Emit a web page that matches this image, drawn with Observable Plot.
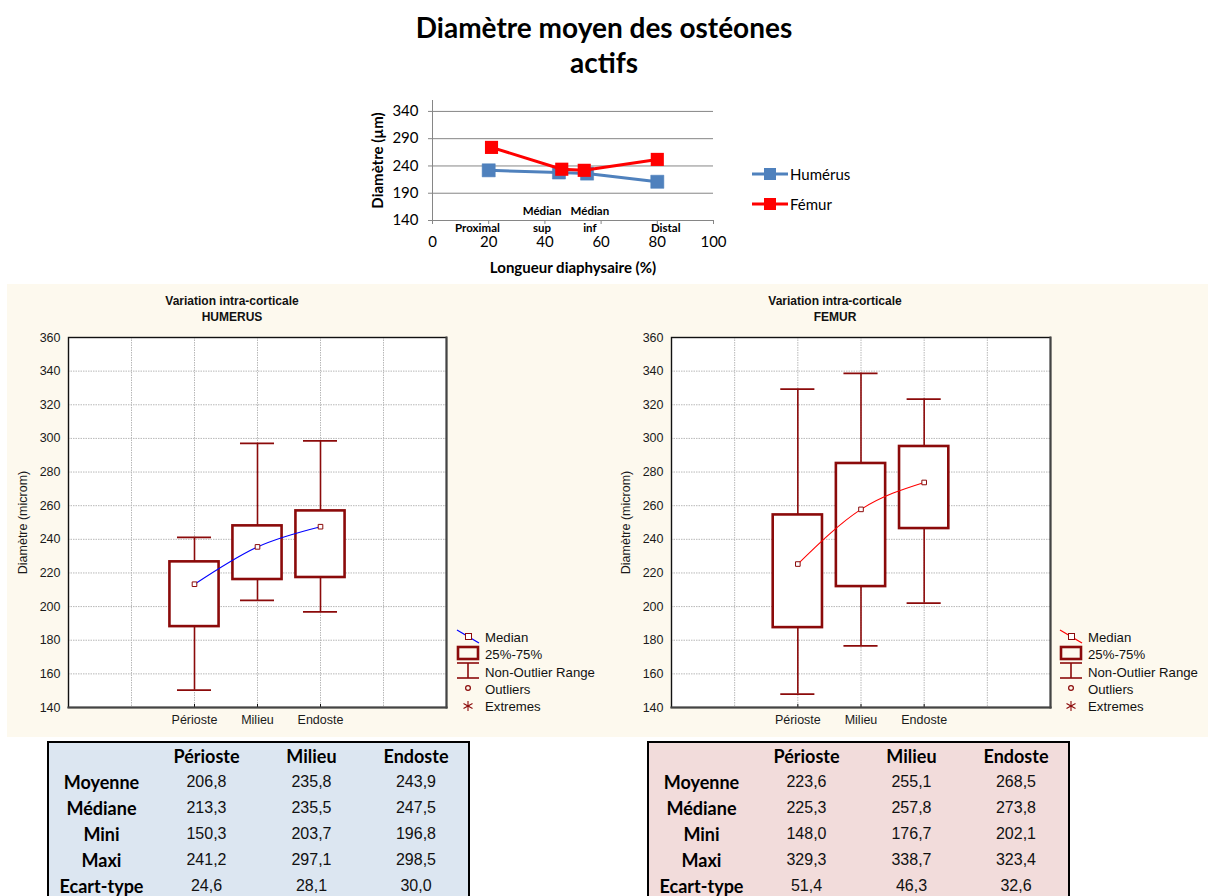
<!DOCTYPE html>
<html><head><meta charset="utf-8">
<script src="https://cdn.jsdelivr.net/npm/d3@7"></script>
<script src="https://cdn.jsdelivr.net/npm/@observablehq/plot@0.6"></script>
<style>
body{margin:0;background:#fff;}
#root{position:relative;width:1208px;height:896px;overflow:hidden;font-family:Lato,sans-serif;background:#fff;}
.bold-label g[aria-label="x-axis label"] text, .bold-label g[aria-label="y-axis label"] text{font-weight:bold !important;font-size:15px !important;}
.bold-label g[aria-label="x-axis label"], .bold-label g[aria-label="y-axis label"]{font-weight:bold;font-size:15px;}
.title{position:absolute;left:0;width:1208px;text-align:center;font-weight:bold;font-size:28px;line-height:34px;color:#000;}
.ptitle{position:absolute;width:300px;text-align:center;font-family:'Liberation Sans',Arial,sans-serif;font-weight:bold;font-size:12px;line-height:16px;color:#111;}
table.stats{position:absolute;border-collapse:collapse;border:2px solid #000;border-bottom:none;table-layout:fixed;}
table.stats td{padding:0;text-align:center;height:26px;font-family:'Liberation Sans',Arial,sans-serif;font-size:16px;line-height:18px;color:#111;}
table.stats td.lab, table.stats td.hd{font-family:Lato,sans-serif;font-weight:bold;font-size:18px;color:#000;}
.legtext{font-family:'Liberation Sans',Arial,sans-serif;font-size:13.2px;fill:#111;}
</style></head><body><div id="root"></div>
<script>
// ---------- Data: top line chart ----------
const humerusX = [20, 45, 55, 80];
const humerusY = [232, 228, 226, 211];
const femurX = [21, 46, 54, 80];
const femurY = [274, 234, 232, 252];
const sectionLabels = ["Proximal", "Médian\nsup", "Médian\ninf", "Distal"];
const sectionLabelX = [16, 39, 56, 83];
const lineTicksY = [140, 190, 240, 290, 340];
const lineTicksX = [0, 20, 40, 60, 80, 100];

// ---------- Data: box plots ----------
const zones = ["Périoste", "Milieu", "Endoste"];
const boxTicksY = [140, 160, 180, 200, 220, 240, 260, 280, 300, 320, 340, 360];
const humQ1 = [188.1, 216.1, 217.3];
const humQ3 = [226.6, 248.0, 256.9];
const humMin = [150.3, 203.7, 196.8];
const humMax = [241.2, 297.1, 298.5];
const humMed = [213.3, 235.5, 247.5];
const humMean = [206.8, 235.8, 243.9];
const humSD = [24.6, 28.1, 30.0];

const femQ1 = [187.5, 211.9, 246.4];
const femQ3 = [254.5, 285.1, 295.2];
const femMin = [148.0, 176.7, 202.1];
const femMax = [329.3, 338.7, 323.4];
const femMed = [225.3, 257.8, 273.8];
const femMean = [223.6, 255.1, 268.5];
const femSD = [51.4, 46.3, 32.6];

const statLabels = ["Moyenne", "Médiane", "Mini", "Maxi", "Ecart-type"];

const root = document.getElementById("root");
function place(el, left, top) { el.style.position = "absolute"; el.style.left = left + "px"; el.style.top = top + "px"; root.appendChild(el); return el; }

// ---------- Title ----------
const t1 = document.createElement("div"); t1.className = "title"; t1.textContent = "Diamètre moyen des ostéones"; t1.style.top = "10px"; root.appendChild(t1);
const t2 = document.createElement("div"); t2.className = "title"; t2.textContent = "actifs"; t2.style.top = "45px"; root.appendChild(t2);

// ---------- Top line chart ----------
const hum = humerusX.map((x, i) => ({x, y: humerusY[i], s: "Humérus"}));
const fem = femurX.map((x, i) => ({x, y: femurY[i], s: "Fémur"}));
const secs = sectionLabels.map((t, i) => ({t, x: sectionLabelX[i]}));
const grayAxis = "#868686";
const topChart = Plot.plot({
  width: 560, height: 190,
  marginLeft: 102, marginRight: 177, marginTop: 10, marginBottom: 60,
  style: {fontFamily: "Lato, sans-serif", fontSize: "15px", background: "transparent", color: "#000", overflow: "visible"},
  x: {domain: [0, 100]},
  y: {domain: [140, 360]},
  marks: [
    Plot.gridY(lineTicksY.slice(1), {stroke: grayAxis, strokeOpacity: 1, strokeWidth: 1}),
    Plot.axisX({ticks: lineTicksX, tickSize: 4, tickPadding: 12, stroke: grayAxis, label: "Longueur diaphysaire (%)", labelAnchor: "center", labelOffset: 52, labelArrow: "none"}),
    Plot.axisY({ticks: lineTicksY, tickSize: 4, tickPadding: 10, stroke: grayAxis, label: "Diamètre (µm)", labelAnchor: "center", labelOffset: 60, labelArrow: "none"}),
    Plot.ruleX([0], {stroke: grayAxis}),
    Plot.ruleY([140], {stroke: grayAxis}),
    Plot.text(secs, {x: "x", y: 140, text: "t", lineAnchor: "bottom", dy: 11, fontSize: 11.5, fontWeight: "bold", lineHeight: 1.4}),
    Plot.line(hum, {x: "x", y: "y", stroke: "#4F81BD", strokeWidth: 3}),
    Plot.dot(hum, {x: "x", y: "y", symbol: "square", r: 7.4, fill: "#4F81BD", stroke: "#4A7EBB", strokeWidth: 0.5}),
    Plot.line(fem, {x: "x", y: "y", stroke: "#FF0000", strokeWidth: 3}),
    Plot.dot(fem, {x: "x", y: "y", symbol: "square", r: 7.4, fill: "#FF0000"})
  ]
});
topChart.classList.add("bold-label");
topChart.querySelectorAll('g[aria-label="x-axis label"] text, g[aria-label="y-axis label"] text').forEach(t => { t.setAttribute("font-weight", "bold"); t.style.fontWeight = "bold"; t.style.fontSize = "15px"; });
place(topChart, 330, 90);

// top legend
const tl = document.createElementNS("http://www.w3.org/2000/svg", "svg");
tl.setAttribute("width", 140); tl.setAttribute("height", 60);
tl.innerHTML = `
<line x1="2" y1="14" x2="38" y2="14" stroke="#4F81BD" stroke-width="3"/>
<rect x="14" y="8" width="12" height="12" fill="#4F81BD"/>
<text x="40" y="19.5" font-family="Lato, sans-serif" font-size="15">Humérus</text>
<line x1="2" y1="44" x2="38" y2="44" stroke="#FF0000" stroke-width="3"/>
<rect x="14" y="38" width="12" height="12" fill="#FF0000"/>
<text x="40" y="49.5" font-family="Lato, sans-serif" font-size="15">Fémur</text>`;
place(tl, 750, 160);

// ---------- Cream panel ----------
const panel = document.createElement("div");
panel.style.background = "#fdf9ee"; panel.style.width = "1201px"; panel.style.height = "453px";
place(panel, 7, 284);

const darkRed = "#8B0A0A";
function boxPanel({q1, q3, lo, hi, med, medColor, left, ml, mr, title, titleCenter, legendLeft}) {
  const rows = zones.map((z, i) => ({z, pos: i + 2, q1: q1[i], q3: q3[i], lo: lo[i], hi: hi[i], med: med[i]}));
  const chart = Plot.plot({
    width: 590, height: 453,
    marginLeft: ml, marginRight: mr, marginTop: 53, marginBottom: 30,
    style: {background: "transparent", fontFamily: "'Liberation Sans', Arial, sans-serif", fontSize: "12.5px", color: "#1a1a1a", overflow: "visible"},
    x: {type: "linear", domain: [0, 6]},
    y: {type: "linear", domain: [140, 360]},
    marks: [
      Plot.frame({fill: "#fff"}),
      Plot.gridX([1, 2, 3, 4, 5], {stroke: "#b8b8b8", strokeOpacity: 1, strokeDasharray: "1.5,1"}),
      Plot.gridY(boxTicksY.slice(1, -1), {stroke: "#b8b8b8", strokeOpacity: 1, strokeDasharray: "1.5,1"}),
      Plot.axisX({ticks: [2, 3, 4], tickFormat: d => zones[d - 2], tickSize: 0, tickPadding: 8, label: null, fontSize: 12.5}),
      Plot.axisY({ticks: boxTicksY, tickSize: 0, tickPadding: 8, label: "Diamètre (microm)", labelAnchor: "center", labelOffset: 50, labelArrow: "none", fontSize: 12.5}),
      Plot.ruleX(rows, {x: "pos", y1: 140, y2: 141.8, stroke: "#111", strokeWidth: 1}),
      Plot.ruleX(rows, {x: "pos", y1: "lo", y2: "q1", stroke: darkRed, strokeWidth: 1.6}),
      Plot.ruleX(rows, {x: "pos", y1: "q3", y2: "hi", stroke: darkRed, strokeWidth: 1.6}),
      Plot.ruleY(rows, {y: "lo", x1: d => d.pos - 0.27, x2: d => d.pos + 0.27, stroke: darkRed, strokeWidth: 1.8}),
      Plot.ruleY(rows, {y: "hi", x1: d => d.pos - 0.27, x2: d => d.pos + 0.27, stroke: darkRed, strokeWidth: 1.8}),
      Plot.rect(rows, {x1: d => d.pos - 0.39, x2: d => d.pos + 0.39, y1: "q1", y2: "q3", fill: "#fff", stroke: darkRed, strokeWidth: 2.6}),
      Plot.line(rows, {x: "pos", y: "med", curve: "natural", stroke: medColor, strokeWidth: 1.1}),
      Plot.dot(rows, {x: "pos", y: "med", symbol: "square", r: 2.6, stroke: darkRed, fill: "#fff", strokeWidth: 1}),
      Plot.frame({stroke: "#111", strokeWidth: 1.4}),
      Plot.frame({anchor: "bottom", stroke: "#444", strokeWidth: 2.2}),
      Plot.frame({anchor: "right", stroke: "#444", strokeWidth: 2})
    ]
  });
  place(chart, left, 284);
  const tt = document.createElement("div"); tt.className = "ptitle";
  tt.innerHTML = "Variation intra-corticale<br>" + title;
  place(tt, titleCenter - 150, 293);
  // legend
  const lg = document.createElementNS("http://www.w3.org/2000/svg", "svg");
  lg.setAttribute("width", 160); lg.setAttribute("height", 90);
  lg.innerHTML = `
  <line x1="1" y1="2" x2="23" y2="15" stroke="${medColor}" stroke-width="1.2"/>
  <rect x="9.5" y="5.5" width="6" height="6" fill="#fff" stroke="${darkRed}" stroke-width="1"/>
  <text class="legtext" x="29" y="13.5">Median</text>
  <rect x="2" y="19" width="20" height="12" fill="none" stroke="${darkRed}" stroke-width="2.6"/>
  <text class="legtext" x="29" y="30.5">25%-75%</text>
  <line x1="1" y1="35" x2="23" y2="35" stroke="${darkRed}" stroke-width="1.6"/>
  <line x1="12" y1="35" x2="12" y2="50" stroke="${darkRed}" stroke-width="1.6"/>
  <line x1="1" y1="50" x2="23" y2="50" stroke="${darkRed}" stroke-width="1.6"/>
  <text class="legtext" x="29" y="48.5">Non-Outlier Range</text>
  <circle cx="12" cy="60" r="2.4" fill="none" stroke="${darkRed}" stroke-width="1.2"/>
  <text class="legtext" x="29" y="65.5">Outliers</text>
  <g stroke="${darkRed}" stroke-width="1.1">
    <line x1="12" y1="73" x2="12" y2="83"/><line x1="7.5" y1="75.5" x2="16.5" y2="80.5"/><line x1="7.5" y1="80.5" x2="16.5" y2="75.5"/>
  </g>
  <text class="legtext" x="29" y="82.5">Extremes</text>`;
  place(lg, legendLeft, 628);
}

boxPanel({q1: humQ1, q3: humQ3, lo: humMin, hi: humMax, med: humMed, medColor: "#0000FF",
  left: 7, ml: 61, mr: 151, title: "HUMERUS", titleCenter: 232, legendLeft: 456});
boxPanel({q1: femQ1, q3: femQ3, lo: femMin, hi: femMax, med: femMed, medColor: "#FF0000",
  left: 610, ml: 61, mr: 150, title: "FEMUR", titleCenter: 835, legendLeft: 1059});

// ---------- Tables ----------
function fmt(v) { return v.toFixed(1).replace(".", ","); }
function statTable(cols, bg, left) {
  const tb = document.createElement("table"); tb.className = "stats";
  tb.style.background = bg; tb.style.width = "423px";
  let html = `<colgroup><col style="width:106px"><col style="width:105px"><col style="width:105px"><col style="width:105px"></colgroup>`;
  html += `<tr><td style="height:26px"></td>` + zones.map(z => `<td class="hd" style="height:26px">${z}</td>`).join("") + `</tr>`;
  statLabels.forEach((lab, r) => {
    html += `<tr><td class="lab">${lab}</td>` + cols[r].map(v => `<td>${fmt(v)}</td>`).join("") + `</tr>`;
  });
  tb.innerHTML = html;
  place(tb, left, 741);
}
statTable([humMean, humMed, humMin, humMax, humSD], "#dce6f1", 47);
statTable([femMean, femMed, femMin, femMax, femSD], "#f2dcdb", 647);
</script></body></html>
